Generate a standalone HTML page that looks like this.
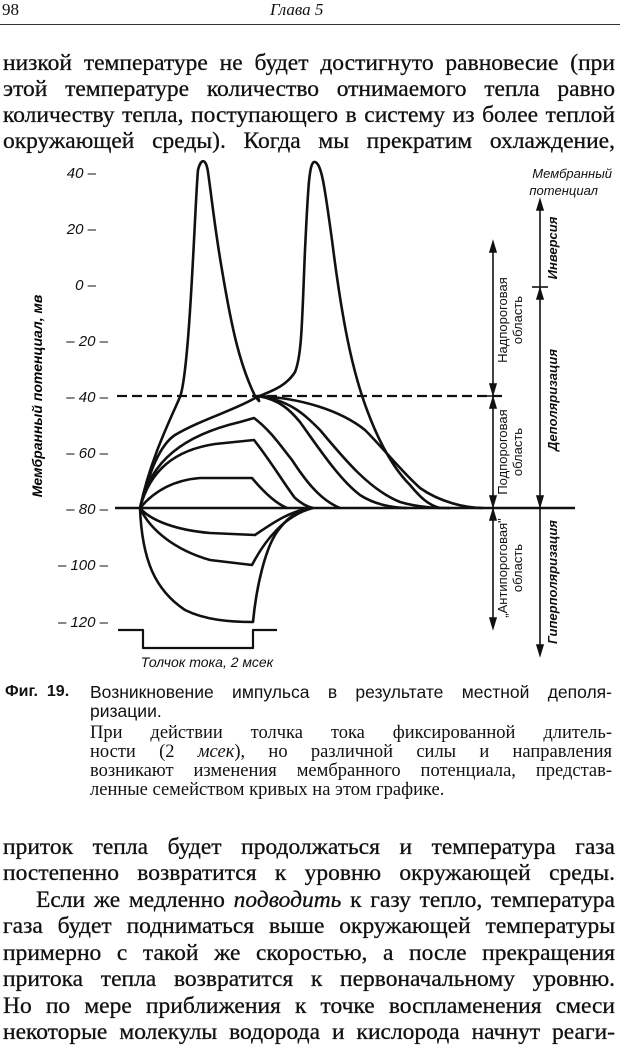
<!DOCTYPE html>
<html><head><meta charset="utf-8"><style>
body{margin:0;width:620px;height:1021px;background:#fff;position:relative;overflow:hidden;font-family:"Liberation Serif","DejaVu Serif",serif;color:#111}
.l{position:absolute;white-space:nowrap;text-align:justify;text-align-last:justify}
.b{font-size:23.5px;left:3px;width:612px;height:26px;line-height:26px;-webkit-text-stroke:0.3px #111}
.c{font-size:17px;left:90px;width:522px;line-height:19px;height:19px}
.s{font-family:"Liberation Sans","DejaVu Sans",sans-serif}
</style></head><body>
<div style="position:absolute;left:2px;top:0px;font-size:17px">98</div>
<div style="position:absolute;left:270px;top:0px;font-size:17px;font-style:italic">Глава 5</div>
<div style="position:absolute;left:0;top:24px;width:620px;height:1px;background:#333"></div>
<div class="l b" style="top:50px">низкой температуре не будет достигнуто равновесие (при</div>
<div class="l b" style="top:76px">этой температуре количество отнимаемого тепла равно</div>
<div class="l b" style="top:102px">количеству тепла, поступающего в систему из более теплой</div>
<div class="l b" style="top:128px">окружающей среды). Когда мы прекратим охлаждение,</div>

<svg width="620" height="680" style="position:absolute;left:0;top:0" xmlns="http://www.w3.org/2000/svg">
<g font-family="Liberation Sans, sans-serif" font-style="italic" font-size="15" text-anchor="end" fill="#111">
<text x="96" y="178">40 –</text><text x="96" y="234">20 –</text><text x="96" y="290">0 –</text>
<text x="108" y="346">– 20 –</text><text x="108" y="402">– 40 –</text><text x="108" y="458">– 60 –</text>
<text x="108" y="514">– 80 –</text><text x="108" y="570">– 100 –</text><text x="108" y="627">– 120 –</text>
</g>
<text transform="translate(42,396) rotate(-90)" text-anchor="middle" font-family="Liberation Sans, sans-serif" font-style="italic" font-weight="bold" font-size="14">Мембранный потенциал, мв</text>
<g stroke="#111" fill="none" stroke-width="2.6" stroke-linejoin="round">
<line x1="115" y1="508" x2="575" y2="508"/>
<line x1="117" y1="396" x2="505" y2="396" stroke-dasharray="10,5" stroke-width="2.2"/>
<path d="M118,630 H143 V648 H253 V630 H277" stroke-width="2.2"/>
<path d="M140,508 C150,460 170,420 180,397 C190,370 195,200 198,170 C201,158 206,158 208,172 C212,200 215,230 222,270 C232,330 240,365 255,396 C262,405 258,400 258,396"/>
<path d="M140,508 C150,470 160,445 175,435 C200,420 235,410 255,398 C268,392 285,388 295,372 C302,355 302,320 305,250 C308,190 309,160 315,162 C322,164 325,190 332,240 C342,320 352,370 367,410 C380,445 395,470 410,485 C420,497 428,505 440,508"/>
<path d="M140,508 C150,460 185,435 240,422 L254,418 C270,430 280,445 292,460 C305,480 320,500 340,508"/>
<path d="M140,508 C150,470 175,450 215,444 L254,440 C270,460 285,485 295,498 C303,505 308,507 313,508"/>
<path d="M140,508 C155,490 175,480 200,478 L252,478 C262,490 275,503 287,508"/>
<path d="M258,396 C280,400 290,410 300,422 C320,450 340,480 360,495 C375,505 395,508 407,508"/>
<path d="M258,396 C290,400 305,415 320,430 C345,460 370,490 400,502 C420,508 440,508 450,508"/>
<path d="M258,396 C300,398 340,410 365,430 C385,450 400,470 420,488 C440,502 465,508 483,508"/>
<path d="M140,508 C150,520 175,530 210,533 L255,535 C270,525 290,510 313,508"/>
<path d="M140,508 C150,530 175,550 210,560 L252,565 C265,540 285,515 313,508"/>
<path d="M140,508 C142,560 155,590 185,610 C205,620 230,622 253,622 C256,590 265,545 280,528 C290,515 300,510 313,508"/>
</g>
<g stroke="#111" stroke-width="1.6" fill="#111">
<line x1="493" y1="246" x2="493" y2="625"/><line x1="484" y1="396" x2="502" y2="396"/>
<path d="M493,242 l-3,10 h6z M493,628 l-3,-10 h6z M493,398 l-3,10 h6z M493,394 l-3,-10 h6z M493,510 l-3,10 h6z M493,506 l-3,-10 h6z"/>
<line x1="540" y1="204" x2="540" y2="652"/><line x1="532" y1="287" x2="548" y2="287"/>
<path d="M540,200 l-3,10 h6z M540,655 l-3,-10 h6z M540,289 l-3,10 h6z M540,506 l-3,-10 h6z"/>
</g>
<g font-family="Liberation Sans, sans-serif" font-size="13" fill="#111" font-style="italic">
<text x="612" y="178" text-anchor="end">Мембранный</text>
<text x="598" y="195" text-anchor="end">потенциал</text>
<text x="207" y="667" text-anchor="middle" font-size="14">Толчок тока, 2 мсек</text>
<g font-style="normal">
<text transform="translate(507,320) rotate(-90)" text-anchor="middle">Надпороговая</text>
<text transform="translate(522,320) rotate(-90)" text-anchor="middle">область</text>
<text transform="translate(507,452) rotate(-90)" text-anchor="middle">Подпороговая</text>
<text transform="translate(522,452) rotate(-90)" text-anchor="middle">область</text>
<text transform="translate(507,568) rotate(-90)" text-anchor="middle">„Антипороговая"</text>
<text transform="translate(522,568) rotate(-90)" text-anchor="middle">область</text>
</g>
<g font-weight="bold">
<text transform="translate(557,248) rotate(-90)" text-anchor="middle">Инверсия</text>
<text transform="translate(557,400) rotate(-90)" text-anchor="middle">Деполяризация</text>
<text transform="translate(557,582) rotate(-90)" text-anchor="middle">Гиперполяризация</text>
</g>
</g>
</svg>

<div class="s" style="position:absolute;left:5px;top:683px;font-size:16px;font-weight:bold">Фиг.&nbsp; 19.</div>
<div class="l c s" style="top:683px;font-size:17.5px">Возникновение импульса в результате местной деполя-</div>
<div class="l c s" style="top:702px;text-align-last:left;font-size:17.5px">ризации.</div>
<div class="l c" style="top:724px;font-size:18.5px">При действии толчка тока фиксированной длитель-</div>
<div class="l c" style="top:743px;font-size:18.5px">ности (2 <i>мсек</i>), но различной силы и направления</div>
<div class="l c" style="top:762px;font-size:18.5px">возникают изменения мембранного потенциала, представ-</div>
<div class="l c" style="top:781px;font-size:18.5px;text-align-last:left">ленные семейством кривых на этом графике.</div>

<div class="l b" style="top:834px">приток тепла будет продолжаться и температура газа</div>
<div class="l b" style="top:860px">постепенно возвратится к уровню окружающей среды.</div>
<div class="l b" style="top:887px;left:36px;width:579px">Если же медленно <i>подводить</i> к газу тепло, температура</div>
<div class="l b" style="top:913px">газа будет подниматься выше окружающей температуры</div>
<div class="l b" style="top:940px">примерно с такой же скоростью, а после прекращения</div>
<div class="l b" style="top:966px">притока тепла возвратится к первоначальному уровню.</div>
<div class="l b" style="top:993px">Но по мере приближения к точке воспламенения смеси</div>
<div class="l b" style="top:1019px">некоторые молекулы водорода и кислорода начнут реаги-</div>
</body></html>
